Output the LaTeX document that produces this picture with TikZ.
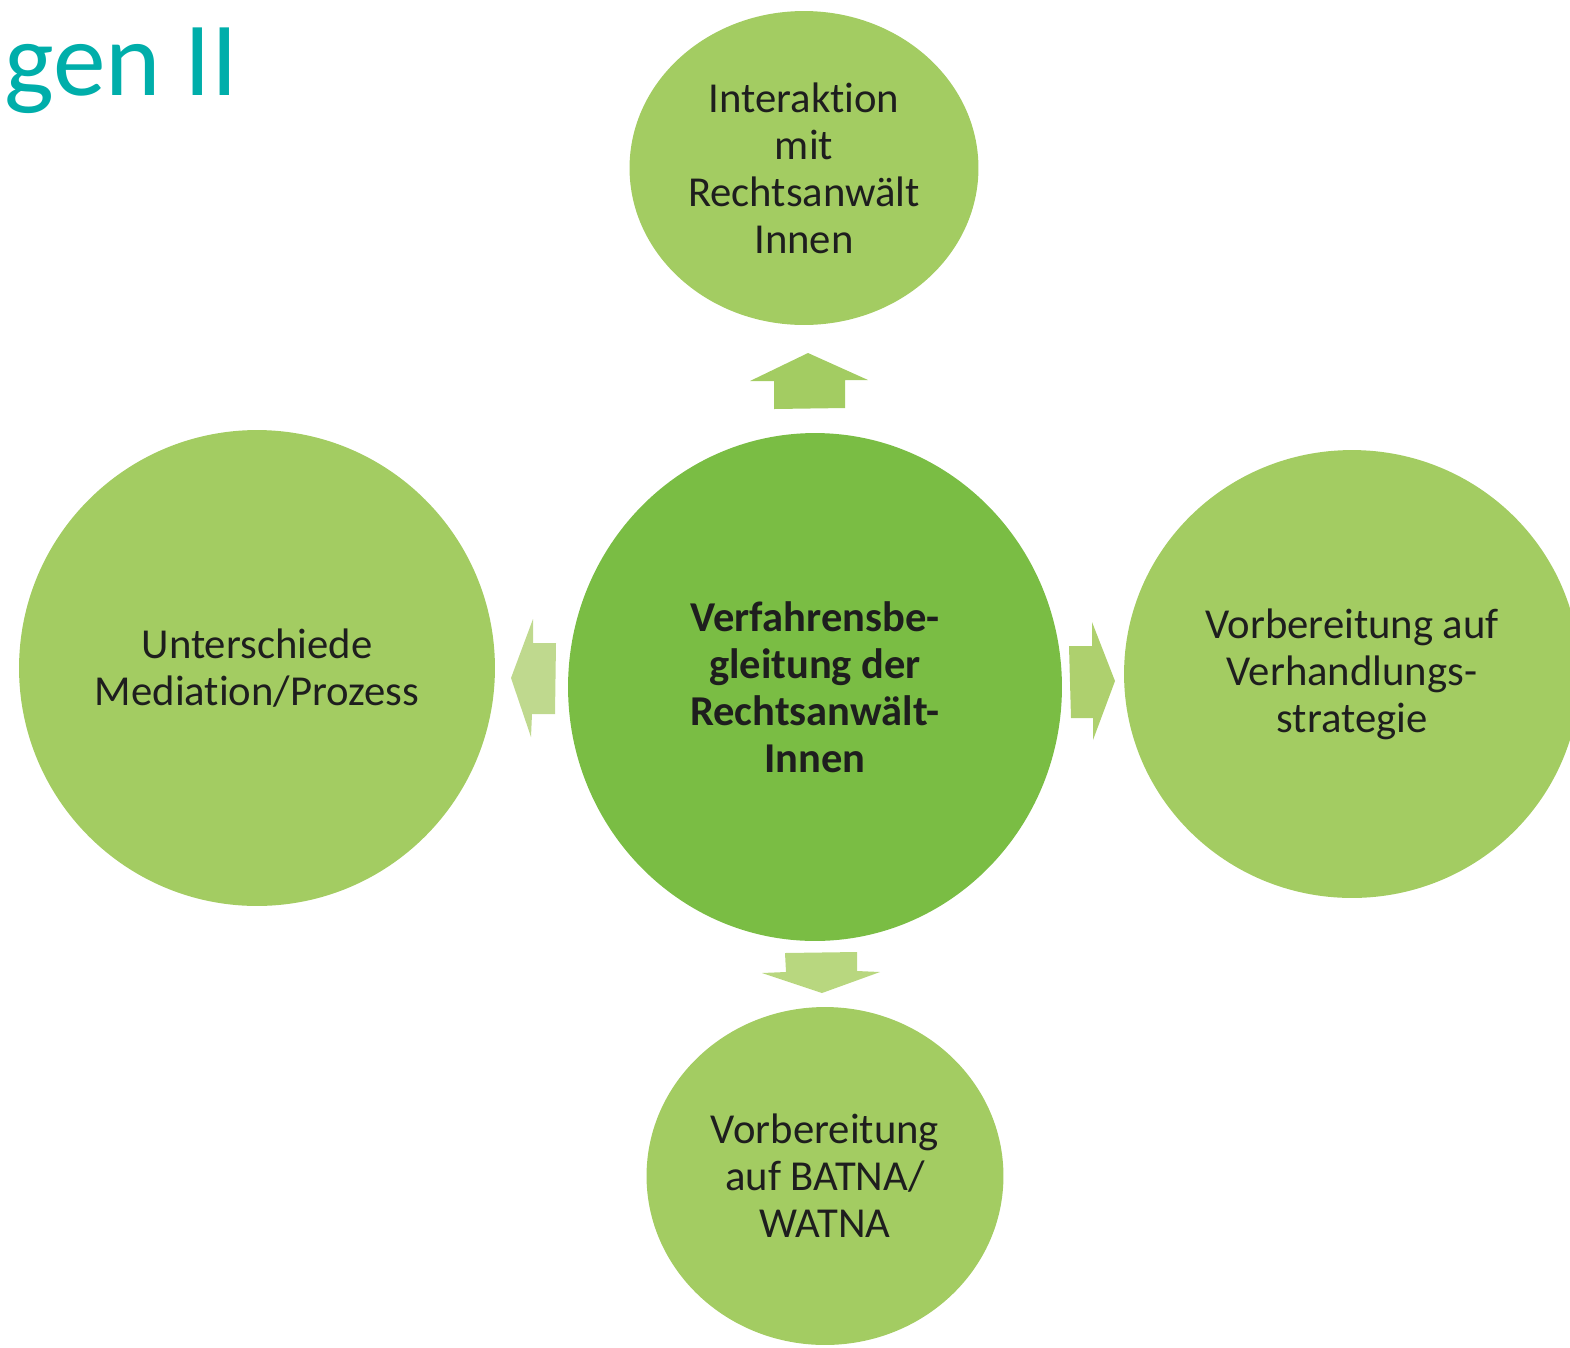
\documentclass[tikz,border=0pt]{standalone}
\usepackage{fontspec}
\setmainfont{Carlito}[Ligatures=NoCommon]
\usetikzlibrary{shapes.geometric}
\definecolor{leafgreen}{HTML}{A3CC62}
\definecolor{coregreen}{HTML}{7ABD44}
\definecolor{arrowup}{HTML}{A3CC62}
\definecolor{arrowleft}{HTML}{BFD98E}
\definecolor{arrowright}{HTML}{AED06E}
\definecolor{arrowdown}{HTML}{B8D77F}
\definecolor{titleteal}{HTML}{00AEAA}
\definecolor{inktext}{HTML}{1E1E1E}
\tikzset{
	bubble/.style={ellipse, fill=leafgreen, inner sep=0pt, align=center, text=inktext,
		font=\fontsize{24.3}{26.8}\selectfont},
	corebubble/.style={bubble, fill=coregreen, font=\fontsize{24.2}{26.8}\selectfont\bfseries}
}
\begin{document}
\begin{tikzpicture}[x=0.02cm, y=-0.02cm]
	\useasboundingbox (0,0) rectangle (1570,1347);
	\begin{scope}
	\clip (0,0) rectangle (1570,1347);
	\node[corebubble, minimum width=9.88cm, minimum height=10.16cm] (core) at (815,687) {Verfahrensbe-\\gleitung der\\Rechtsanw\"alt-\\Innen};
	\node[bubble, minimum width=6.98cm, minimum height=6.28cm] (lawyers) at (804,168) {Interaktion\\mit\\Rechtsanw\"alt\\Innen};
	\node[bubble, minimum width=9.52cm, minimum height=9.52cm] (process) at (257,668) {Unterschiede\\Mediation/Prozess};
	\node[bubble, minimum width=9.12cm, minimum height=8.96cm] (strategy) at (1352,674) {Vorbereitung auf\\Verhandlungs-\\strategie};
	\node[bubble, minimum width=7.14cm, minimum height=6.76cm] (batna) at (825,1176) {Vorbereitung\\auf BATNA/\\WATNA};
	\end{scope}
	% block arrows
	\fill[arrowup] (808,353) -- (868,380) -- (845,380) -- (845,408) -- (774,409) -- (774,381) -- (750,381) -- cycle;
	\fill[arrowleft] (511,678) -- (533,619) -- (533,643) -- (556,643) -- (555,714) -- (532,714) -- (531,737) -- cycle;
	\fill[arrowright] (1115,681) -- (1093,740) -- (1093,718) -- (1071,718) -- (1069,646) -- (1092,646) -- (1092,622) -- cycle;
	\fill[arrowdown] (822,993) -- (762,973) -- (786,972) -- (785,953) -- (857,952) -- (857,971) -- (880,972) -- cycle;
	% title fragment
	\node[anchor=base west, inner sep=0pt, text=titleteal, font=\fontsize{60}{68}\selectfont] (title) at (4,95) {gen II};
\end{tikzpicture}
\end{document}
